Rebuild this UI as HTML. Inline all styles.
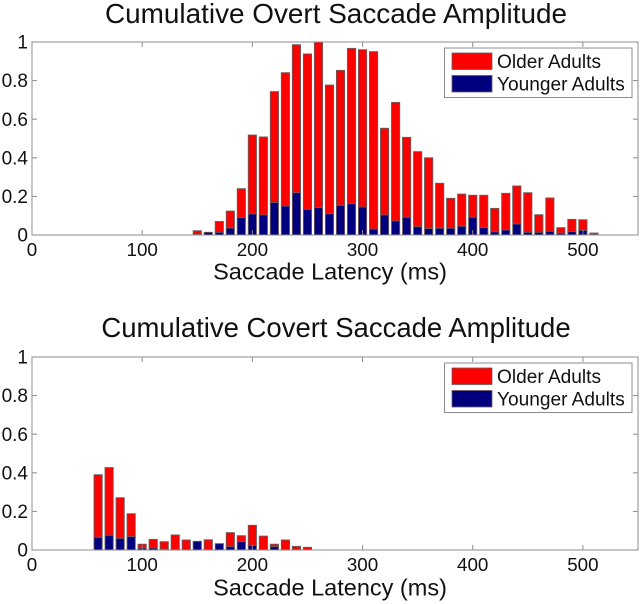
<!DOCTYPE html>
<html>
<head>
<meta charset="utf-8">
<style>
html,body{margin:0;padding:0;background:#fff;}
svg{display:block;filter:blur(0.35px);font-family:"Liberation Sans",Arial,sans-serif;}
</style>
</head>
<body>
<svg id="chart" width="641" height="604" viewBox="0 0 641 604" xmlns="http://www.w3.org/2000/svg">
<rect x="0" y="0" width="641" height="604" fill="#fff"/>
<text x="336" y="23" font-size="27.9" text-anchor="middle" fill="#111">Cumulative Overt Saccade Amplitude</text>
<text x="330" y="279.5" font-size="23.5" text-anchor="middle" fill="#111">Saccade Latency (ms)</text>
<text x="336" y="337" font-size="27.5" text-anchor="middle" fill="#111">Cumulative Covert Saccade Amplitude</text>
<text x="330" y="595.5" font-size="23.5" text-anchor="middle" fill="#111">Saccade Latency (ms)</text>
<g id="plots"></g>
</svg>
<script>
const xTicks = [0, 100, 200, 300, 400, 500];
const yTicks = [0, 0.2, 0.4, 0.6, 0.8, 1];
const yTickLabels = ["0", "0.2", "0.4", "0.6", "0.8", "1"];
const legendLabels = ["Older Adults", "Younger Adults"];

const overtLatency = [150,160,170,180,190,200,210,220,230,240,250,260,270,280,290,300,310,320,330,340,350,360,370,380,390,400,410,420,430,440,450,460,470,480,490,500,510];
const overtYounger = [.003,.014,.014,.036,.09,.109,.104,.168,.15,.219,.133,.142,.11,.154,.162,.145,.031,.104,.073,.092,.043,.033,.035,.035,.045,.092,.038,.016,.026,.057,.014,.014,.019,.009,.017,.024,.002];
const overtOlder = [.019,0,.056,.088,.15,.409,.404,.575,.691,.767,.805,.858,.667,.699,.805,.815,.919,.449,.614,.414,.389,.367,.233,.155,.167,.114,.168,.122,.19,.197,.205,.091,.173,.029,.064,.055,.008];

const covertLatency = [60,70,80,90,100,110,120,130,140,150,160,170,180,190,200,210,220,230,240,250];
const covertYounger = [.066,.076,.06,.069,.009,.01,.004,0,0,.045,0,.033,.017,.043,.024,0,.017,0,0,0];
const covertOlder = [.324,.351,.211,.119,.021,.045,.039,.078,.052,0,.053,0,.073,.031,.104,.072,.013,.052,.019,.014];

const NS = "http://www.w3.org/2000/svg";
const root = document.getElementById("plots");
const LEFT = 32, RIGHT = 638, XMAX = 550, PLOT_H = 193, BAR_W = 8.2;
const AXIS = "#8c8c8c", EDGE = "#6e5a5a", RED = "#ff0000", BLUE = "#00007f";

function shape(tag, attrs, parent) {
  const el = document.createElementNS(NS, tag);
  for (const k in attrs) el.setAttribute(k, attrs[k]);
  parent.appendChild(el);
  return el;
}
function xScale(v) { return LEFT + (v / XMAX) * (RIGHT - LEFT); }

function drawPlot(prefix, top, legendTop, latency, younger, older) {
  const bottom = top + PLOT_H;
  const yScale = v => bottom - v * PLOT_H;
  const g = shape("g", {}, root);
  
  

  latency.forEach((lat, i) => {
    const x = xScale(lat) - BAR_W / 2;
    const total = younger[i] + older[i];
    if (older[i] > 0) {
      const r = shape("rect", {x: x, y: yScale(total), width: BAR_W, height: Math.max(0, yScale(younger[i]) - yScale(total)), fill: RED, stroke: EDGE, "stroke-width": 0.9}, g);
      
      
    }
    if (younger[i] > 0) {
      const b = shape("rect", {x: x, y: yScale(younger[i]), width: BAR_W, height: bottom - yScale(younger[i]), fill: BLUE, stroke: EDGE, "stroke-width": 0.9}, g);
      
      
    }
  });

  const box = shape("rect", {x: LEFT, y: top, width: RIGHT - LEFT, height: PLOT_H, fill: "none", stroke: AXIS, "stroke-width": 1}, g);
  
  

  xTicks.forEach(t => {
    const x = xScale(t);
    const lower = shape("line", {x1: x, x2: x, y1: bottom, y2: bottom - 5, stroke: AXIS}, g);
    
    
    const upper = shape("line", {x1: x, x2: x, y1: top, y2: top + 5, stroke: AXIS}, g);
    
    
    const label = shape("text", {x: x, y: bottom + 21, "font-size": 18.8, "text-anchor": "middle", fill: "#111"}, g);
    
    
    label.textContent = String(t);
  });

  yTicks.forEach((t, i) => {
    const y = yScale(t);
    const lower = shape("line", {x1: LEFT, x2: LEFT + 5, y1: y, y2: y, stroke: AXIS}, g);
    
    
    const upper = shape("line", {x1: RIGHT, x2: RIGHT - 5, y1: y, y2: y, stroke: AXIS}, g);
    
    
    const label = shape("text", {x: 28, y: y + 6.6, "font-size": 19, "text-anchor": "end", fill: "#111"}, g);
    
    
    label.textContent = yTickLabels[i];
  });

  const legend = shape("g", {}, g);
  
  
  const frame = shape("rect", {x: 444.5, y: legendTop, width: 187.5, height: 49.5, fill: "#fff", stroke: AXIS}, legend);
  
  
  [RED, BLUE].forEach((color, i) => {
    const sw = shape("rect", {x: 452, y: legendTop + 5 + i * 22.5, width: 40, height: 16.5, fill: color, stroke: EDGE, "stroke-width": 0.8}, legend);
    
    
    const tx = shape("text", {x: 497, y: legendTop + 20 + i * 22.5, "font-size": 19.1, fill: "#111"}, legend);
    
    
    tx.textContent = legendLabels[i];
  });
}

drawPlot("overt", 42, 48, overtLatency, overtYounger, overtOlder);
drawPlot("covert", 357, 363, covertLatency, covertYounger, covertOlder);
</script>
</body>
</html>
